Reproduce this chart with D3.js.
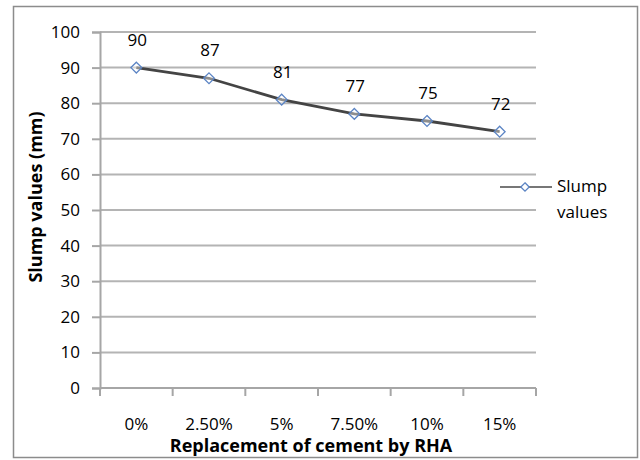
<!DOCTYPE html>
<html>
<head>
<meta charset="utf-8">
<script src="https://cdn.jsdelivr.net/npm/d3@7"></script>
<style>
  html, body { margin: 0; padding: 0; background: #fff; }
  svg { display: block; }
  text { font-family: "Open Sans", "Liberation Sans", sans-serif; fill: #000; }
</style>
</head>
<body>
<svg id="chart" width="640" height="460"></svg>
<script>
// Slump test results for concrete with cement partly replaced by rice husk ash
const categories = ["0%", "2.50%", "5%", "7.50%", "10%", "15%"];
const slumpValues = [90, 87, 81, 77, 75, 72];
const yTicks = [0, 10, 20, 30, 40, 50, 60, 70, 80, 90, 100];
const seriesName = ["Slump", "values"];

const svg = d3.select("#chart");
const W = 640, H = 460;
const margin = { left: 100, right: 104, top: 32, bottom: 72 };
const plotW = W - margin.left - margin.right;
const plotH = H - margin.top - margin.bottom;

// outer chart frame
svg.append("rect")
  .attr("x", 13.5).attr("y", 6.5)
  .attr("width", 624).attr("height", 451)
  .attr("fill", "#fff").attr("stroke", "#8c8c8c").attr("stroke-width", 1.5);

const g = svg.append("g").attr("transform", `translate(${margin.left},${margin.top})`);

const x = d3.scaleBand().domain(categories).range([0, plotW]).padding(0);
const y = d3.scaleLinear().domain([0, 100]).range([plotH, 0]);

// horizontal gridlines
g.append("g")
  .selectAll("line")
  .data(yTicks.filter(d => d > 0))
  .join("line")
  .attr("x1", 0).attr("x2", plotW)
  .attr("y1", d => y(d)).attr("y2", d => y(d))
  .attr("stroke", "#b4b4b4").attr("stroke-width", 2);

// y axis
const yAxis = g.append("g")
  .call(d3.axisLeft(y).tickValues(yTicks).tickSize(8).tickPadding(12));
yAxis.select(".domain").attr("stroke", "#a6a6a6").attr("stroke-width", 2);
yAxis.selectAll(".tick line").attr("stroke", "#a6a6a6").attr("stroke-width", 2);
yAxis.selectAll(".tick text").style("font-size", "17px").attr("fill", "#000");

// x axis with tick marks at band boundaries
const xAxisG = g.append("g").attr("transform", `translate(0,${plotH})`);
xAxisG.append("line")
  .attr("x1", 0).attr("x2", plotW).attr("y1", 0).attr("y2", 0)
  .attr("stroke", "#a6a6a6").attr("stroke-width", 2);
const boundaries = categories.map(c => x(c)).concat([plotW]);
xAxisG.selectAll("line.tk")
  .data(boundaries)
  .join("line").attr("class", "tk")
  .attr("x1", d => d).attr("x2", d => d)
  .attr("y1", 0).attr("y2", 8)
  .attr("stroke", "#a6a6a6").attr("stroke-width", 2);
xAxisG.selectAll("text.cat")
  .data(categories)
  .join("text").attr("class", "cat")
  .attr("x", d => x(d) + x.bandwidth() / 2)
  .attr("y", 42)
  .attr("text-anchor", "middle")
  .style("font-size", "17px")
  .text(d => d);

// axis titles
svg.append("text")
  .attr("x", 311).attr("y", 452)
  .attr("text-anchor", "middle")
  .style("font-size", "18px").style("font-weight", "bold")
  .text("Replacement of cement by RHA");

svg.append("text")
  .attr("transform", "translate(42,197) rotate(-90)")
  .attr("text-anchor", "middle")
  .style("font-size", "18px").style("font-weight", "bold")
  .text("Slump values (mm)");

// series line
const cx = d => x(d) + x.bandwidth() / 2;
const line = d3.line()
  .x((d, i) => cx(categories[i]))
  .y(d => y(d));

g.append("path")
  .datum(slumpValues)
  .attr("d", line)
  .attr("fill", "none")
  .attr("stroke", "#444")
  .attr("stroke-width", 2.8);

// diamond markers
const diamond = d3.symbol().type(d3.symbolDiamond2).size(75);
g.selectAll("path.mk")
  .data(slumpValues)
  .join("path").attr("class", "mk")
  .attr("d", diamond)
  .attr("transform", (d, i) => `translate(${cx(categories[i])},${y(d)})`)
  .attr("fill", "#fff").attr("fill-opacity", 0.4)
  .attr("stroke", "#5b84c4").attr("stroke-width", 1.3);

// data labels
g.selectAll("text.val")
  .data(slumpValues)
  .join("text").attr("class", "val")
  .attr("x", (d, i) => cx(categories[i]) + 1)
  .attr("y", d => y(d) - 22)
  .attr("text-anchor", "middle")
  .style("font-size", "17px")
  .text(d => d);

// legend
const lg = svg.append("g").attr("transform", "translate(500,187)");
lg.append("line").attr("x1", 0).attr("x2", 52).attr("y1", 0).attr("y2", 0)
  .attr("stroke", "#777").attr("stroke-width", 2);
lg.append("path").attr("d", d3.symbol().type(d3.symbolDiamond2).size(45))
  .attr("transform", "translate(25,0)")
  .attr("fill", "#fff").attr("stroke", "#5b84c4").attr("stroke-width", 1.3);
lg.selectAll("text")
  .data(seriesName)
  .join("text")
  .attr("x", 57).attr("y", (d, i) => 5 + i * 26)
  .style("font-size", "17px")
  .text(d => d);
</script>
</body>
</html>
